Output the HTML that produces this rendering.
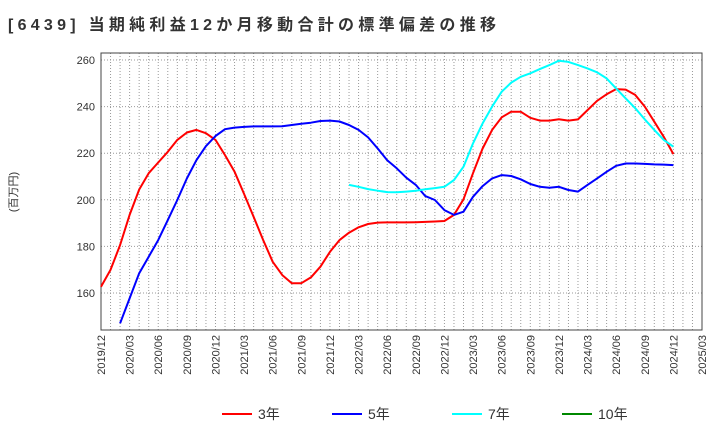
<!DOCTYPE html>
<html><head><meta charset="utf-8"><style>
body{margin:0;background:#fff;font-family:"Liberation Sans","Noto Sans CJK JP",sans-serif}
</style></head><body>
<svg id="c" width="720" height="440" xmlns="http://www.w3.org/2000/svg" font-family="Liberation Sans, Noto Sans CJK JP, sans-serif">
<text x="8" y="30" font-size="16" font-weight="bold" fill="#333" textLength="488" lengthAdjust="spacing">[6439]  当期純利益12か月移動合計の標準偏差の推移</text>
<text transform="translate(17,192) rotate(-90)" font-size="11" text-anchor="middle" fill="#333">(百万円)</text>
<g id="grid"></g><g id="axes"></g><g id="series"></g>
<g id="legend"></g>
</svg>
<script>
const xLabels=["2019/12","2020/03","2020/06","2020/09","2020/12","2021/03","2021/06","2021/09","2021/12","2022/03","2022/06","2022/09","2022/12","2023/03","2023/06","2023/09","2023/12","2024/03","2024/06","2024/09","2024/12","2025/03"];
const yTicks=[160,180,200,220,240,260];
const red=[162.7,169.9,180.6,193.5,204.4,211.4,216,220.6,225.7,228.9,230,228.6,225.7,219.2,212,202.5,192.7,182.7,173.4,167.7,164.2,164.2,166.7,171.3,177.7,182.7,185.9,188.2,189.6,190.2,190.3,190.3,190.3,190.4,190.5,190.7,190.9,193.5,200.2,211.4,222,230,235.4,237.8,237.8,235.2,234,234,234.6,234,234.5,238.5,242.5,245.3,247.5,247.3,245,240,233.5,227,219.6];
const blue=[null,null,147,157.7,168.5,175.6,182.7,191.3,199.9,209.2,217,223,227.4,230.3,231,231.3,231.5,231.5,231.5,231.6,232.1,232.6,233.1,233.8,234,233.6,232.1,230,226.8,222,217,213.5,209.5,206.4,201.6,199.9,195.6,193.5,194.9,201.3,205.9,209.2,210.6,210.2,208.8,206.8,205.6,205.2,205.6,204.2,203.5,206.4,209.2,212,214.6,215.6,215.6,215.4,215.2,215.1,214.9];
const cyan=[null,null,null,null,null,null,null,null,null,null,null,null,null,null,null,null,null,null,null,null,null,null,null,null,null,null,206.4,205.6,204.6,203.9,203.3,203.2,203.5,203.9,204.5,205,205.6,208.5,214.2,224.2,232.8,240,246.4,250.3,252.8,254.3,256.1,257.8,259.7,259.2,257.8,256.4,254.7,252.1,247.8,243.5,239.3,234.5,230,225.7,222.8];
const green=[];
const L=101,R=702,T=53,B=330,NM=63;
const xs=i=>L+(R-L)*i/NM;
const ys=v=>293-(v-160)*2.33;
const NS="http://www.w3.org/2000/svg";
function mk(t,a,p){const e=document.createElementNS(NS,t);for(const k in a)e.setAttribute(k,a[k]);p.appendChild(e);return e;}
const g=document.getElementById('grid'),ax=document.getElementById('axes'),s=document.getElementById('series'),lg=document.getElementById('legend');
for(let m=1;m<NM;m++){const l=mk('line',{x1:xs(m),x2:xs(m),y1:T,y2:B,stroke:'#999','stroke-width':1,'stroke-dasharray':'1,2'},g);

}
yTicks.forEach(v=>{const l=mk('line',{x1:L,x2:R,y1:ys(v),y2:ys(v),stroke:'#999','stroke-width':1,'stroke-dasharray':'1,2'},g);


const t=mk('text',{x:L-6,y:ys(v)+4,'text-anchor':'end','font-size':11,fill:'#333'},ax);t.textContent=v;

});
xLabels.forEach((lab,i)=>{const x=xs(i*3);const t=mk('text',{transform:`translate(${x+4},${B+5}) rotate(-90)`,'text-anchor':'end','font-size':11,fill:'#333'},ax);t.textContent=lab;

});
const fr=mk('rect',{x:L,y:T,width:R-L,height:B-T,fill:'none',stroke:'#444','stroke-width':1},ax);


function line(arr,col,name){let d='';let pen=false;arr.forEach((v,i)=>{if(v==null){pen=false;return;}d+=(pen?'L':'M')+xs(i).toFixed(1)+','+ys(v).toFixed(1);pen=true;});
if(!d)return;const p=mk('path',{d:d,fill:'none',stroke:col,'stroke-width':2,'stroke-linejoin':'round'},s);

}
line(red,'#f00','series-3y');line(blue,'#00f','series-5y');line(cyan,'#0ff','series-7y');line(green,'#080','series-10y');
[['3年','#f00',222],['5年','#00f',332],['7年','#0ff',452],['10年','#080',562]].forEach(([n,c,x])=>{
const gg=mk('g',{},lg);


mk('line',{x1:x,x2:x+30,y1:414,y2:414,stroke:c,'stroke-width':2},gg);
const t=mk('text',{x:x+36,y:419,'font-size':14,fill:'#333'},gg);t.textContent=n;});
</script>
</body></html>
